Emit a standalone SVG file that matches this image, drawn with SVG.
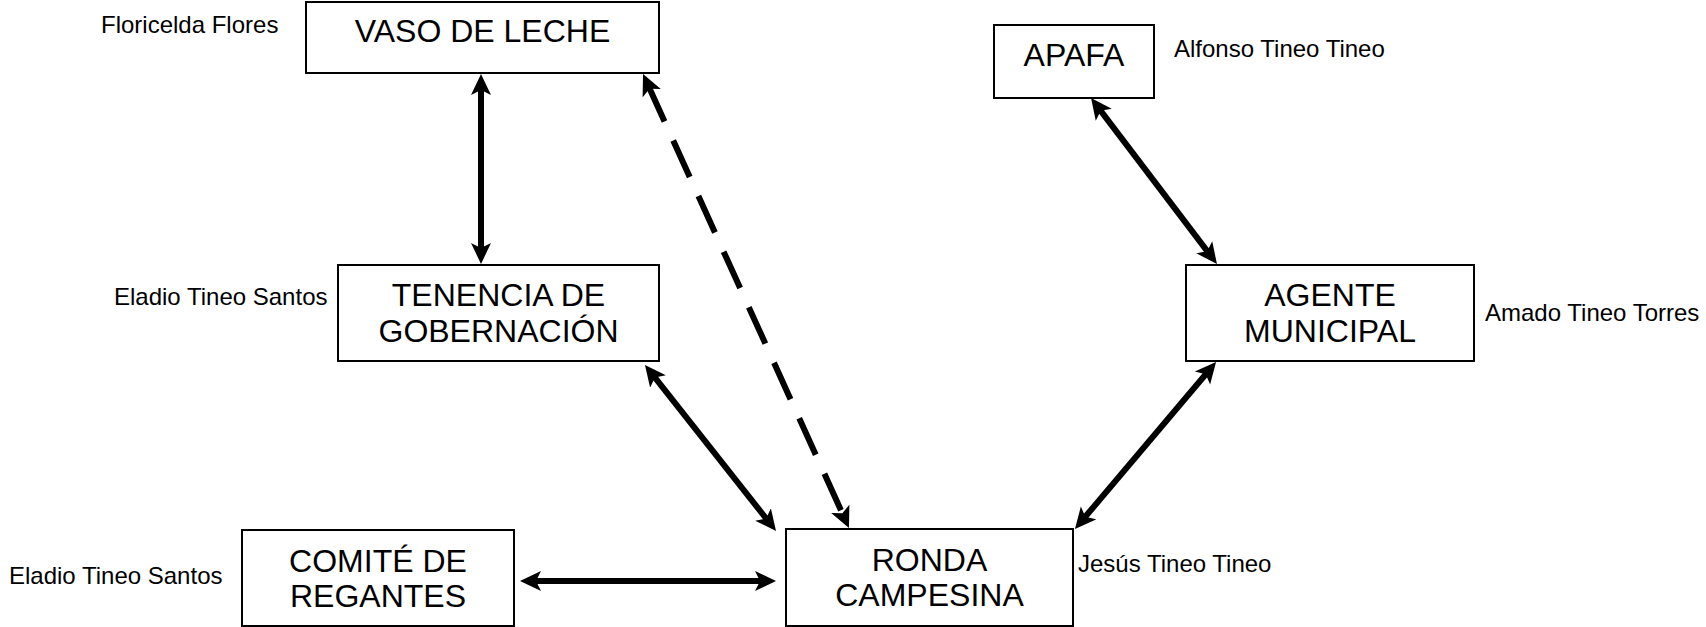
<svg xmlns="http://www.w3.org/2000/svg" width="1706" height="627" viewBox="0 0 1706 627">
<style>
.box{fill:#fff;stroke:#000;stroke-width:2}
.t{font-family:"Liberation Sans",Arial,sans-serif;font-size:32px;fill:#000;text-anchor:middle}
.l{font-family:"Liberation Sans",Arial,sans-serif;font-size:24px;fill:#000}
.c{fill:none;stroke:#000;stroke-width:6}
.d{stroke-dasharray:40 21}
</style>
<defs>
<marker id="ah" markerUnits="userSpaceOnUse" markerWidth="24" markerHeight="22" viewBox="0 0 24 22" refX="9" refY="11" orient="auto-start-reverse">
<path d="M0,1 L21,11 L0,21 L5,11 Z" fill="#000"/>
</marker>
</defs>
<rect width="1706" height="627" fill="#fff"/>
<g id="connectors">
<line class="c" x1="481" y1="86" x2="481" y2="252" marker-start="url(#ah)" marker-end="url(#ah)"/>
<line class="c d" x1="648" y1="85" x2="844" y2="517" marker-start="url(#ah)" marker-end="url(#ah)"/>
<line class="c" x1="652.4" y1="374.4" x2="768.6" y2="521.6" marker-start="url(#ah)" marker-end="url(#ah)"/>
<line class="c" x1="532" y1="581" x2="764" y2="581" marker-start="url(#ah)" marker-end="url(#ah)"/>
<line class="c" x1="1208.3" y1="371.2" x2="1082.7" y2="519.8" marker-start="url(#ah)" marker-end="url(#ah)"/>
<line class="c" x1="1098.3" y1="107.6" x2="1209.7" y2="254.4" marker-start="url(#ah)" marker-end="url(#ah)"/>
</g>
<g id="vaso">
<rect class="box" x="306" y="2" width="353" height="71"/>
<text class="t" x="482.5" y="42">VASO DE LECHE</text>
<text class="l" x="101" y="33">Floricelda Flores</text>
</g>
<g id="apafa">
<rect class="box" x="994" y="25" width="160" height="73"/>
<text class="t" x="1074" y="66">APAFA</text>
<text class="l" x="1174" y="57">Alfonso Tineo Tineo</text>
</g>
<g id="tenencia">
<rect class="box" x="338" y="265" width="321" height="96"/>
<text class="t" x="498.5" y="306">TENENCIA DE</text>
<text class="t" x="498.5" y="342">GOBERNACIÓN</text>
<text class="l" x="114" y="305">Eladio Tineo Santos</text>
</g>
<g id="agente">
<rect class="box" x="1186" y="265" width="288" height="96"/>
<text class="t" x="1330" y="306">AGENTE</text>
<text class="t" x="1330" y="342">MUNICIPAL</text>
<text class="l" x="1485" y="321">Amado Tineo Torres</text>
</g>
<g id="comite">
<rect class="box" x="242" y="530" width="272" height="96"/>
<text class="t" x="378" y="572">COMITÉ DE</text>
<text class="t" x="378" y="607">REGANTES</text>
<text class="l" x="9" y="584">Eladio Tineo Santos</text>
</g>
<g id="ronda">
<rect class="box" x="786" y="529" width="287" height="97"/>
<text class="t" x="929.5" y="571">RONDA</text>
<text class="t" x="929.5" y="606">CAMPESINA</text>
<text class="l" x="1078" y="572">Jesús Tineo Tineo</text>
</g>
</svg>
